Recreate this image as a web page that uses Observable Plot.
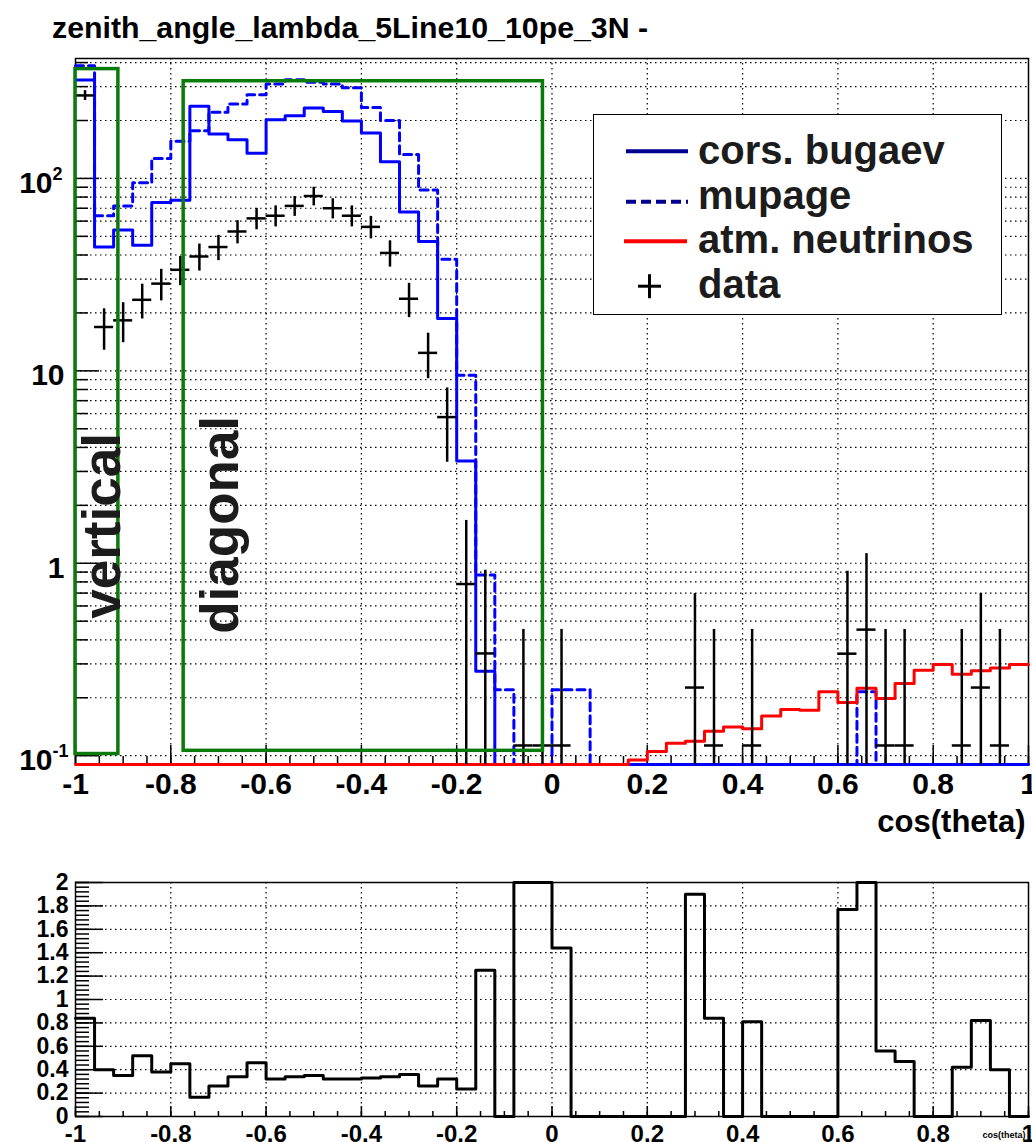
<!DOCTYPE html>
<html>
<head>
<meta charset="utf-8">
<script src="https://cdn.jsdelivr.net/npm/d3@7"></script>
<script src="https://cdn.jsdelivr.net/npm/@observablehq/plot@0.6"></script>
<style>
  html, body { margin: 0; padding: 0; background: #fff; }
  #page { position: relative; width: 1032px; height: 1142px; overflow: hidden;
          font-family: "Liberation Sans", Arial, Helvetica, sans-serif; background: #fff; }
  #title { position: absolute; left: 52px; top: 13px; font-size: 30.3px; font-weight: bold;
           line-height: 30px; white-space: nowrap; color: #000; }
  #topChart { position: absolute; left: 0; top: 0; }
  #ratioChart { position: absolute; left: 0; top: 860px; }
  #legend { position: absolute; left: 593px; top: 114px; width: 409px; height: 201px;
            box-sizing: border-box; border: 1.5px solid #000; background: #fff; }
  #legend span { position: absolute; left: 104px; font-size: 40px; font-weight: bold;
                 line-height: 40px; white-space: nowrap; color: #1c1c1c; }
  #legend svg { position: absolute; left: 0; top: 0; }
</style>
</head>
<body>
<div id="page">
  <div id="topChart"></div>
  <div id="ratioChart"></div>
  <div id="title"></div>
  <div id="legend"></div>
</div>
<script>
// ---------------- data ----------------
const titleText = "zenith_angle_lambda_5Line10_10pe_3N -";
const xTitle = "cos(theta)";
const xMin = -1, binWidth = 0.04, nBins = 50;

// MC: CORSIKA (Bugaev), solid blue
const corsBugaev = [325, 44, 54, 45, 75, 77, 237, 170, 159, 135,
                    202, 212, 232, 223, 199, 172, 122, 67, 47, 18.7,
                    3.4, 0.275, 0, 0, 0, 0, 0, 0, 0, 0,
                    0, 0, 0, 0, 0, 0, 0, 0, 0, 0,
                    0, 0, 0, 0, 0, 0, 0, 0, 0, 0];
// MC: MUPAGE, dashed blue
const mupage = [385, 64, 72, 95, 127, 156, 177, 221, 244, 272,
                310, 326, 316, 310, 296, 234, 200, 133, 87, 38,
                9.5, 0.87, 0.22, 0, 0, 0.22, 0.22, 0, 0, 0,
                0, 0, 0, 0, 0, 0, 0, 0, 0, 0,
                0, 0.215, 0, 0, 0, 0, 0, 0, 0, 0];
// MC: atmospheric neutrinos, red
const atmNu = [0, 0, 0, 0, 0, 0, 0, 0, 0, 0,
               0, 0, 0, 0, 0, 0, 0, 0, 0, 0,
               0, 0, 0, 0, 0, 0, 0, 0, 0, 0.095,
               0.105, 0.116, 0.119, 0.134, 0.141, 0.138, 0.161, 0.174, 0.172, 0.215,
               0.189, 0.224, 0.198, 0.237, 0.278, 0.298, 0.265, 0.276, 0.286, 0.298];
// data points and their error bars
const dataVal = [270, 16.9, 18.3, 23.4, 28.4, 33.5, 39.3, 44, 53, 62,
                 64, 72, 81, 70, 64, 56, 41, 23.7, 12.4, 5.75,
                 0.78, 0.34, 0, 0.113, 0.113, 0.113, 0, 0, 0, 0,
                 0, 0, 0.226, 0.113, 0, 0.113, 0, 0, 0, 0,
                 0.339, 0.452, 0.113, 0.113, 0, 0, 0.113, 0.226, 0.113, 0];
const dataErr = [16, 4.1, 4.3, 4.8, 5.3, 5.8, 6.3, 6.6, 7.3, 7.9,
                 8.0, 8.5, 9.0, 8.4, 8.0, 7.5, 6.4, 4.8, 3.3, 2.4,
                 0.89, 0.58, 0, 0.34, 0.34, 0.34, 0, 0, 0, 0,
                 0, 0, 0.47, 0.34, 0, 0.34, 0, 0, 0, 0,
                 0.57, 0.67, 0.34, 0.34, 0, 0, 0.34, 0.47, 0.34, 0];
// lower panel ratio
const ratio = [0.84, 0.40, 0.35, 0.52, 0.38, 0.45, 0.165, 0.26, 0.34, 0.46,
               0.32, 0.34, 0.35, 0.32, 0.32, 0.33, 0.34, 0.36, 0.26, 0.32,
               0.235, 1.25, 0, 2, 2, 1.44, 0, 0, 0, 0,
               0, 0, 1.90, 0.84, 0, 0.81, 0, 0, 0, 0,
               1.77, 2, 0.56, 0.47, 0, 0, 0.42, 0.82, 0.40, 0];

// annotation boxes and labels
const zoneBoxes = [
  {name: "vertical", x1: -1.0, x2: -0.91, y1: 0.102, y2: 370},
  {name: "diagonal", x1: -0.773, x2: -0.019, y1: 0.106, y2: 320}
];
const zoneLabels = [
  {text: "vertical", x: -0.9056, y: 0.515},
  {text: "diagonal", x: -0.659, y: 0.430}
];

// axis ticks and labels
const xMajor = [-1, -0.8, -0.6, -0.4, -0.2, 0, 0.2, 0.4, 0.6, 0.8, 1];
const xMajorLabels = ["-1", "-0.8", "-0.6", "-0.4", "-0.2", "0", "0.2", "0.4", "0.6", "0.8", "1"];
const xGrid = [-0.8, -0.6, -0.4, -0.2, 0, 0.2, 0.4, 0.6, 0.8];
const xMinor = d3.range(-1, 1.0001, 0.05);
const yLogMajor = [0.1, 1, 10, 100];
const yLogBase = ["10", "1", "10", "10"];
const yLogExp = ["-1", "", "", "2"];
const yLogMinor = [0.2, 0.3, 0.4, 0.5, 0.6, 0.7, 0.8, 0.9,
                   2, 3, 4, 5, 6, 7, 8, 9,
                   20, 30, 40, 50, 60, 70, 80, 90,
                   200, 300, 400];
const rMajor = [0, 0.2, 0.4, 0.6, 0.8, 1, 1.2, 1.4, 1.6, 1.8, 2];
const rMajorLabels = ["0", "0.2", "0.4", "0.6", "0.8", "1", "1.2", "1.4", "1.6", "1.8", "2"];
const rGrid = [0.2, 0.4, 0.6, 0.8, 1, 1.2, 1.4, 1.6, 1.8];
const rMinor = d3.range(0, 2.0001, 0.04);

const legendNames = ["cors. bugaev", "mupage", "atm. neutrinos", "data"];

// ---------------- helpers ----------------
const FONT = "Liberation Sans, Arial, Helvetica, sans-serif";
const edges = d3.range(nBins + 1).map(i => xMin + binWidth * i);
const yMin = 0.09, yMax = 420;

function steps(vals, lo, hi) {
  const pts = [];
  vals.forEach((v, i) => {
    const y = Math.min(Math.max(v, lo), hi);
    pts.push({x: edges[i], y}, {x: edges[i + 1], y});
  });
  return pts;
}

const dataRows = dataVal.map((v, i) => ({
  v, x0: edges[i], x1: edges[i + 1], xc: (edges[i] + edges[i + 1]) / 2,
  lo: Math.max(v - dataErr[i], yMin), hi: Math.min(v + dataErr[i], yMax)
})).filter(d => d.v > 0);

// ---------------- top panel ----------------
const W = 1032, H = 842, mT = 58, mB = 78, mL = 75, mR = 4;
const fW = W - mL - mR, fH = H - mT - mB;
const grid = {stroke: "#000", strokeWidth: 1.2, strokeDasharray: "1.5,3.5"};
const tickStyle = {stroke: "#000", strokeWidth: 1.5};
const zoneFont = 53;

const yLabelRows = yLogMajor.map((v, i) => ({v, base: yLogBase[i], exp: yLogExp[i]}));

const topSvg = Plot.plot({
  width: W, height: H, marginTop: mT, marginBottom: mB, marginLeft: mL, marginRight: mR,
  style: {fontFamily: FONT, background: "transparent", overflow: "visible"},
  x: {domain: [-1, 1], axis: null},
  y: {type: "log", domain: [yMin, yMax], axis: null},
  marks: [
    Plot.ruleY([...yLogMajor, ...yLogMinor], {y: d => d, ...grid}),
    Plot.ruleX(xGrid, {x: d => d, ...grid}),
    Plot.ruleX(xMajor, {x: d => d, insetTop: fH - 19, ...tickStyle}),
    Plot.ruleX(xMinor, {x: d => d, insetTop: fH - 8, ...tickStyle}),
    Plot.ruleY(yLogMajor, {y: d => d, insetRight: fW - 24, ...tickStyle}),
    Plot.ruleY(yLogMinor, {y: d => d, insetRight: fW - 13, ...tickStyle}),
    Plot.frame({stroke: "#000", strokeWidth: 1.5}),
    Plot.line(steps(corsBugaev, yMin, yMax), {x: "x", y: "y", stroke: "#0000ff", strokeWidth: 3}),
    Plot.line(steps(mupage, yMin, yMax), {x: "x", y: "y", stroke: "#0000ff", strokeWidth: 3, strokeDasharray: "8,5"}),
    Plot.line(steps(atmNu, yMin, yMax), {x: "x", y: "y", stroke: "#ff0000", strokeWidth: 3}),
    Plot.ruleX(dataRows, {x: "xc", y1: "lo", y2: "hi", stroke: "#000", strokeWidth: 2.5}),
    Plot.ruleY(dataRows, {y: "v", x1: "x0", x2: "x1", stroke: "#000", strokeWidth: 2.5}),
    Plot.rect(zoneBoxes, {x1: "x1", x2: "x2", y1: "y1", y2: "y2", fill: "none", stroke: "#0a7a0a", strokeWidth: 3.5}),
    Plot.text(zoneLabels, {x: "x", y: "y", text: "text", rotate: -90, textAnchor: "start", lineAnchor: "bottom",
      fontSize: zoneFont, fontWeight: "bold", fill: "#1c1c1c", ariaLabel: "zone-label"}),
    Plot.text(yLabelRows.filter(d => d.exp === ""), {y: "v", text: "base", frameAnchor: "left", dx: -11, dy: 5,
      textAnchor: "end", lineAnchor: "middle", fontSize: 30, fontWeight: "bold", fill: "#000"}),
    Plot.text(yLabelRows.filter(d => d.exp !== ""), {y: "v", text: "base", frameAnchor: "left", dx: -23, dy: 5,
      textAnchor: "end", lineAnchor: "middle", fontSize: 30, fontWeight: "bold", fill: "#000"}),
    Plot.text(yLabelRows.filter(d => d.exp !== ""), {y: "v", text: "exp", frameAnchor: "left", dx: -23, dy: -4,
      textAnchor: "start", lineAnchor: "middle", fontSize: 18, fontWeight: "bold", fill: "#000"}),
    Plot.text(xMajor.map((v, i) => ({v, t: xMajorLabels[i]})), {x: "v", text: "t", frameAnchor: "bottom", dy: 20,
      lineAnchor: "middle", fontSize: 30, fontWeight: "bold", fill: "#000"}),
    Plot.text([xTitle], {text: d => d, frameAnchor: "bottom-right", dx: -3, dy: 58, textAnchor: "end",
      lineAnchor: "middle", fontSize: 31, fontWeight: "bold", fill: "#000"})
  ]
});
document.getElementById("topChart").append(topSvg);

// clip the rotated zone labels to a narrow strip, as in the original rendering
(function () {
  const svgSel = d3.select(topSvg);
  const g = svgSel.select('g[aria-label="zone-label"]');
  if (g.empty()) return;
  const sx = topSvg.scale("x");
  const f = sx.apply ? sx.apply : (v => sx.range[0] + (v - sx.domain[0]) / (sx.domain[1] - sx.domain[0]) * (sx.range[1] - sx.range[0]));
  const defs = svgSel.insert("defs", ":first-child");
  const cp = defs.append("clipPath").attr("id", "zone-clip");
  zoneLabels.forEach(z => {
    const bx = f(z.x);
    cp.append("rect").attr("x", bx - 0.555 * zoneFont).attr("y", 0)
      .attr("width", 0.585 * zoneFont).attr("height", H);
  });
  g.attr("clip-path", "url(#zone-clip)");
})();

// ---------------- ratio panel ----------------
const RH = 282, rT = 22, rB = 26;
const rfH = RH - rT - rB;
const ratioSvg = Plot.plot({
  width: W, height: RH, marginTop: rT, marginBottom: rB, marginLeft: mL, marginRight: mR,
  style: {fontFamily: FONT, background: "transparent", overflow: "visible"},
  x: {domain: [-1, 1], axis: null},
  y: {domain: [0, 2], axis: null},
  marks: [
    Plot.ruleY(rGrid, {y: d => d, ...grid}),
    Plot.ruleX(xGrid, {x: d => d, ...grid}),
    Plot.ruleX(xMajor, {x: d => d, insetTop: rfH - 10, ...tickStyle}),
    Plot.ruleX(xMinor, {x: d => d, insetTop: rfH - 5, ...tickStyle}),
    Plot.ruleY(rMajor, {y: d => d, insetRight: fW - 28, ...tickStyle}),
    Plot.ruleY(rMinor, {y: d => d, insetRight: fW - 14, ...tickStyle}),
    Plot.frame({stroke: "#000", strokeWidth: 1.5}),
    Plot.line(steps(ratio, 0, 2), {x: "x", y: "y", stroke: "#000", strokeWidth: 3}),
    Plot.text(rMajor.map((v, i) => ({v, t: rMajorLabels[i]})), {y: "v", text: "t", frameAnchor: "left", dx: -7,
      textAnchor: "end", lineAnchor: "middle", fontSize: 23, fontWeight: "bold", fill: "#000"}),
    Plot.text(xMajor.map((v, i) => ({v, t: xMajorLabels[i]})), {x: "v", text: "t", frameAnchor: "bottom", dy: 18,
      lineAnchor: "middle", fontSize: 24, fontWeight: "bold", fill: "#000"}),
    Plot.text([xTitle], {text: d => d, frameAnchor: "bottom-right", dx: -3, dy: 19, textAnchor: "end",
      lineAnchor: "middle", fontSize: 9, fontWeight: "bold", fill: "#000"})
  ]
});
document.getElementById("ratioChart").append(ratioSvg);

// ---------------- title ----------------
document.getElementById("title").textContent = titleText;

// ---------------- legend ----------------
(function () {
  const leg = document.getElementById("legend");
  const sw = d3.select(leg).append("svg").attr("width", 406).attr("height", 198);
  const swY = [36.2, 86.8, 126.2, 171.2];
  sw.append("line").attr("x1", 32).attr("x2", 94).attr("y1", swY[0]).attr("y2", swY[0])
    .attr("stroke", "#000090").attr("stroke-width", 4);
  sw.append("line").attr("x1", 32).attr("x2", 94).attr("y1", swY[1]).attr("y2", swY[1])
    .attr("stroke", "#000090").attr("stroke-width", 4).attr("stroke-dasharray", "10,5");
  sw.append("line").attr("x1", 30).attr("x2", 93).attr("y1", swY[2]).attr("y2", swY[2])
    .attr("stroke", "#ff0000").attr("stroke-width", 4);
  sw.append("line").attr("x1", 44).attr("x2", 67).attr("y1", swY[3]).attr("y2", swY[3])
    .attr("stroke", "#000").attr("stroke-width", 3);
  sw.append("line").attr("x1", 55.5).attr("x2", 55.5).attr("y1", swY[3] - 12).attr("y2", swY[3] + 12)
    .attr("stroke", "#000").attr("stroke-width", 3);
  legendNames.forEach((name, i) => {
    const s = document.createElement("span");
    s.textContent = name;
    s.style.top = (15.4 + 44.4 * i) + "px";
    leg.appendChild(s);
  });
})();
</script>
</body>
</html>
